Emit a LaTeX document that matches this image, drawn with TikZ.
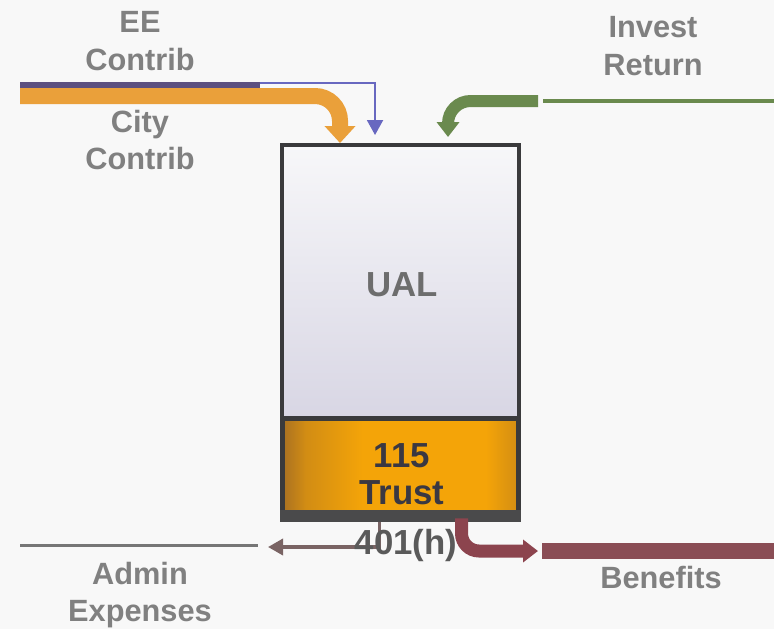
\documentclass[tikz,border=0pt]{standalone}
\usepackage{fontspec}
\setmainfont{Liberation Sans}
\usepackage{tikz}
\usetikzlibrary{arrows.meta,positioning,calc}
\usepackage{xcolor}
\definecolor{labelgrey}{RGB}{128,128,128}
\definecolor{tankgrey}{RGB}{58,58,60}
\definecolor{ualtop}{RGB}{247,247,249}
\definecolor{ualbot}{RGB}{216,214,228}
\definecolor{trustorange}{RGB}{244,164,8}
\definecolor{trustedge}{RGB}{168,112,34}
\definecolor{trusttext}{RGB}{58,56,66}
\definecolor{cityorange}{RGB}{234,160,58}
\definecolor{eepurple}{RGB}{92,80,128}
\definecolor{eeblue}{RGB}{104,104,192}
\definecolor{investgreen}{RGB}{106,138,78}
\definecolor{benefitred}{RGB}{140,68,78}
\definecolor{adminbrown}{RGB}{122,100,100}
\definecolor{adminline}{RGB}{118,118,118}
\definecolor{bgpaper}{RGB}{248,248,248}
\pgfdeclarehorizontalshading{trustshade}{100bp}{color(0bp)=(trustedge); color(25bp)=(trustedge); color(30bp)=(trustorange!55!trustedge); color(42bp)=(trustorange); color(68bp)=(trustorange); color(75bp)=(trustedge!45!trustorange); color(100bp)=(trustedge!45!trustorange)}
\tikzset{
    flowlabel/.style={font=\fontsize{17.5}{21.5}\selectfont\bfseries, text=labelgrey, align=center},
    tanklabel/.style={font=\fontsize{19.8}{21}\selectfont\bfseries, align=center},
    ualbox/.style={rectangle, draw=tankgrey, line width=0.08cm, top color=ualtop, bottom color=ualbot, minimum width=4.74cm, minimum height=5.46cm, inner sep=0pt},
    trustbox/.style={rectangle, draw=tankgrey, line width=0.1cm, shading=trustshade, minimum width=4.74cm, minimum height=2.04cm, inner sep=0pt},
    bigtip/.tip={Triangle[width=0.6cm,length=0.34cm]},
    medtip/.tip={Triangle[width=0.44cm,length=0.3cm]},
    smalltip/.tip={Triangle[width=0.32cm,length=0.3cm]},
}

\begin{document}
\begin{tikzpicture}[x=0.02cm, y=-0.02cm]
    \useasboundingbox (0,0) rectangle (774,629);
    \fill[bgpaper] (0,0) rectangle (774,629);

    % Tank
    \node[ualbox] (ual) at (400.5,281.5) {};
    \node[trustbox] (trust) at (400.5,469) {};
    \fill[tankgrey!92] ($(trust.south west)+(0,-12)$) rectangle (trust.south east);
    \node[tanklabel, text=labelgrey!85!black] (ual-text) at (402,285) {UAL};
    \node[tanklabel, text=trusttext] (trust-text) at (402,474) {115\\Trust};

    % Contributions in
    \coordinate (ee-in) at (20,85);
    \coordinate (ee-split) at (260,85);
    \coordinate (city-in) at (20,96);
    \draw[line width=0.14cm, eepurple] (ee-in) -- (ee-split);
    \draw[line width=0.04cm, eeblue, -smalltip] ($(ee-split)+(0,-2)$) -| ($(ual.north west)+(95,-8)$);
    \draw[line width=0.32cm, cityorange, rounded corners=0.5cm, -bigtip] (city-in) -| ($(ual.north west)+(60,0)$);

    % Investment return
    \coordinate (inv-in) at (774,101);
    \coordinate (inv-pipe) at (538,101);
    \draw[line width=0.08cm, investgreen] (inv-in) -- ($(inv-pipe)+(5,0)$);
    \draw[line width=0.24cm, investgreen, rounded corners=0.45cm, -medtip] (inv-pipe) -| ($(ual.north west)+(168,-6)$);

    % Flows out
    \coordinate (admin-out) at (20,545);
    \coordinate (admin-end) at (258,545);
    \coordinate (admin-tip) at (268,547);
    \coordinate (ben-tip) at (538,551);
    \coordinate (ben-out) at (774,551);
    \draw[line width=0.06cm, adminline] (admin-out) -- (admin-end);
    \draw[line width=0.07cm, adminbrown, -smalltip] ($(trust.south west)+(100,0)$) |- (admin-tip);
    \draw[line width=0.26cm, benefitred, rounded corners=0.35cm, -medtip] ($(trust.south west)+(182,-4)$) |- (ben-tip);
    \draw[line width=0.32cm, benefitred!85!gray] ($(ben-tip)+(4,0)$) -- (ben-out);

    % Labels
    \node[flowlabel] (ee) at (140,41) {EE\\Contrib};
    \node[flowlabel] (city) at (140,140) {City\\Contrib};
    \node[flowlabel] (invest) at (653,46) {Invest\\Return};
    \node[flowlabel] (admin) at (140,595) {Admin\\Expenses};
    \node[flowlabel] (benefits) at (661,578) {Benefits};
    \node[tanklabel, text=labelgrey!70!black] (h401) at (406,545) {401(h)};
\end{tikzpicture}
\end{document}
